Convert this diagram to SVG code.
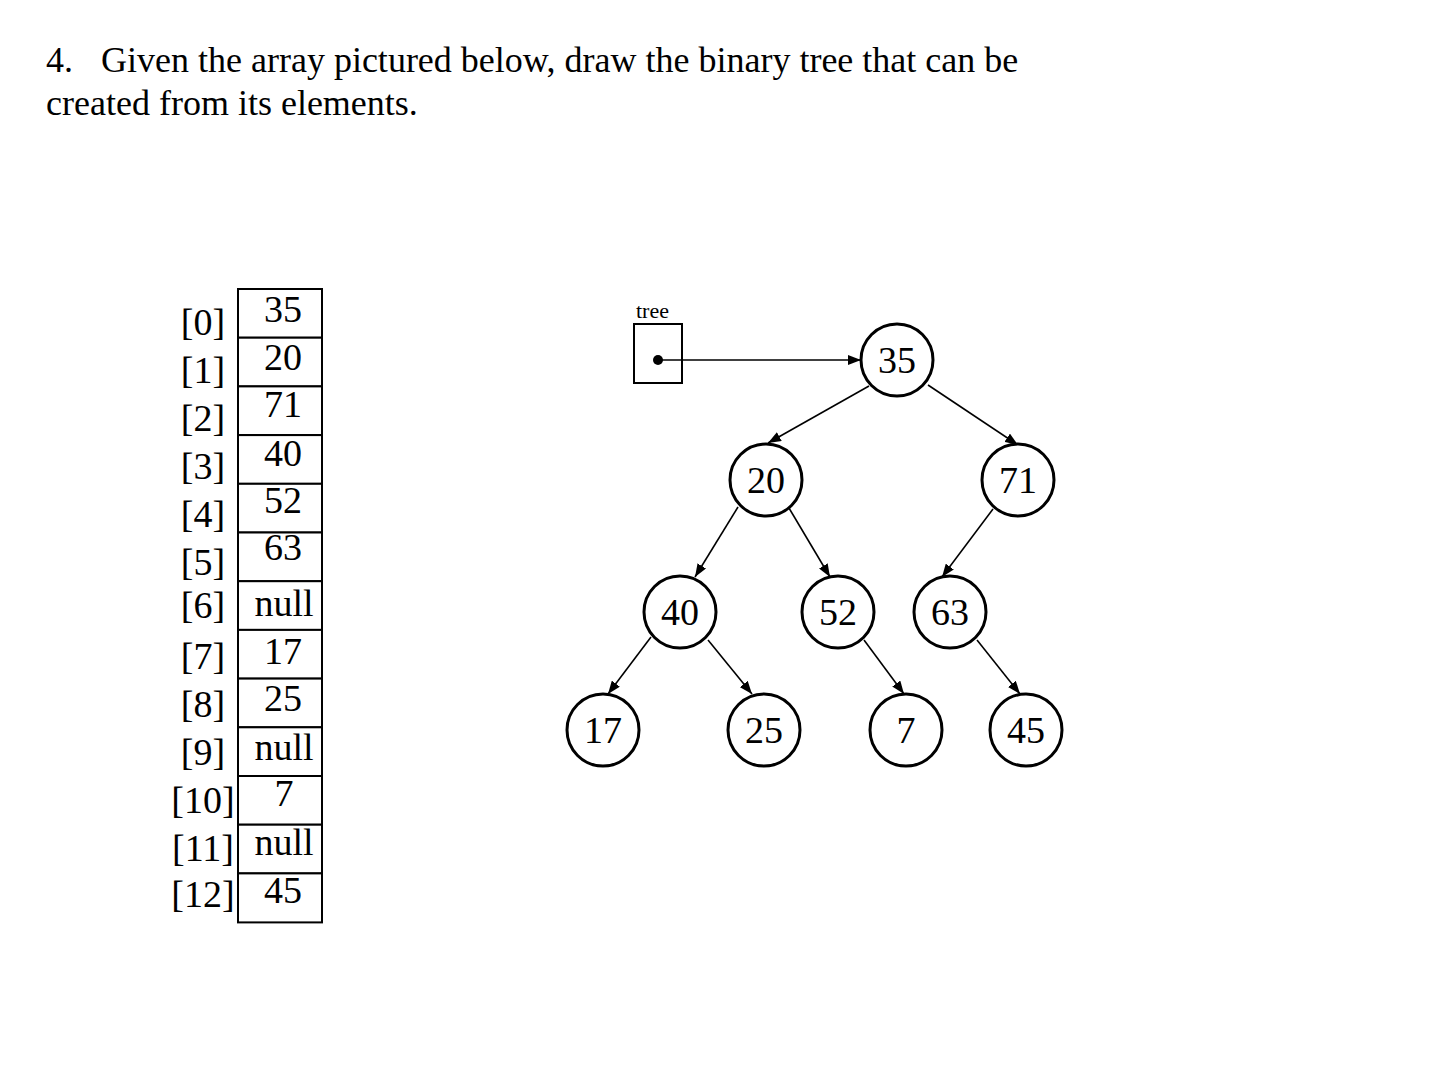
<svg xmlns="http://www.w3.org/2000/svg" width="1437" height="1080" viewBox="0 0 1437 1080" font-family="'Liberation Serif', 'Times New Roman', serif">
<style>
text{font-family:"Liberation Serif","Times New Roman",serif;fill:#000}
.title{font-size:36px}
.idx{font-size:38px;text-anchor:middle}
.val{font-size:38px;text-anchor:middle}
.cell{fill:#fff;stroke:#000;stroke-width:2}
.node circle{fill:#fff;stroke:#000;stroke-width:3}
.node text{font-size:38px;text-anchor:middle}
.edge{stroke:#000;stroke-width:1.6;fill:none;marker-end:url(#ah)}
</style>
<defs>
<marker id="ah" viewBox="0 0 13 10" refX="13" refY="5" markerWidth="13" markerHeight="10" markerUnits="userSpaceOnUse" orient="auto">
<path d="M0,0 L13,5 L0,10 z" fill="#000"/>
</marker>
</defs>
<rect width="1437" height="1080" fill="#fff"/>
<text class="title" x="46" y="72">4.<tspan x="101">Given the array pictured below, draw the binary tree that can be</tspan></text>
<text class="title" x="46" y="115">created from its elements.</text>

<g id="array">
<rect class="cell" x="238" y="289" width="84" height="48.7"/>
<rect class="cell" x="238" y="337.7" width="84" height="48.7"/>
<rect class="cell" x="238" y="386.4" width="84" height="48.7"/>
<rect class="cell" x="238" y="435.1" width="84" height="48.7"/>
<rect class="cell" x="238" y="483.8" width="84" height="48.7"/>
<rect class="cell" x="238" y="532.5" width="84" height="48.7"/>
<rect class="cell" x="238" y="581.2" width="84" height="48.7"/>
<rect class="cell" x="238" y="629.9" width="84" height="48.7"/>
<rect class="cell" x="238" y="678.6" width="84" height="48.7"/>
<rect class="cell" x="238" y="727.3" width="84" height="48.7"/>
<rect class="cell" x="238" y="776" width="84" height="48.7"/>
<rect class="cell" x="238" y="824.7" width="84" height="48.7"/>
<rect class="cell" x="238" y="873.4" width="84" height="49"/>
<text class="val" x="283" y="322">35</text>
<text class="val" x="283" y="370">20</text>
<text class="val" x="283" y="417">71</text>
<text class="val" x="283" y="466">40</text>
<text class="val" x="283" y="513">52</text>
<text class="val" x="283" y="560">63</text>
<text class="val" x="284" y="616">null</text>
<text class="val" x="283" y="664">17</text>
<text class="val" x="283" y="711">25</text>
<text class="val" x="284" y="760">null</text>
<text class="val" x="284" y="806">7</text>
<text class="val" x="284" y="855">null</text>
<text class="val" x="283" y="903">45</text>
<text class="idx" x="203" y="335">[0]</text>
<text class="idx" x="203" y="383">[1]</text>
<text class="idx" x="203" y="431">[2]</text>
<text class="idx" x="203" y="479">[3]</text>
<text class="idx" x="203" y="527">[4]</text>
<text class="idx" x="203" y="575">[5]</text>
<text class="idx" x="203" y="618">[6]</text>
<text class="idx" x="203" y="669">[7]</text>
<text class="idx" x="203" y="717">[8]</text>
<text class="idx" x="203" y="765">[9]</text>
<text class="idx" x="203" y="813">[10]</text>
<text class="idx" x="203" y="861">[11]</text>
<text class="idx" x="203" y="907">[12]</text>
</g>

<g id="tree-ref">
<text x="636" y="318" style="font-size:22px">tree</text>
<rect x="634" y="324" width="48" height="59" fill="#fff" stroke="#000" stroke-width="2"/>
<circle cx="658" cy="360" r="5" fill="#000"/>
</g>

<g id="connectors">
<line class="edge" x1="658" y1="360" x2="861" y2="360"/>
<line class="edge" x1="869" y1="386" x2="768" y2="443"/>
<line class="edge" x1="928" y1="385" x2="1018" y2="445"/>
<line class="edge" x1="738" y1="507" x2="695" y2="577"/>
<line class="edge" x1="789" y1="508" x2="830" y2="577"/>
<line class="edge" x1="993" y1="509" x2="942" y2="577"/>
<line class="edge" x1="651" y1="637" x2="608" y2="694"/>
<line class="edge" x1="708" y1="640" x2="752" y2="694"/>
<line class="edge" x1="864" y1="640" x2="904" y2="694"/>
<line class="edge" x1="977" y1="640" x2="1020" y2="694"/>
</g>

<g id="n35" class="node"><circle cx="897" cy="360" r="36"/><text x="897" y="373">35</text></g>
<g id="n20" class="node"><circle cx="766" cy="480" r="36"/><text x="766" y="493">20</text></g>
<g id="n71" class="node"><circle cx="1018" cy="480" r="36"/><text x="1018" y="493">71</text></g>
<g id="n40" class="node"><circle cx="680" cy="612" r="36"/><text x="680" y="625">40</text></g>
<g id="n52" class="node"><circle cx="838" cy="612" r="36"/><text x="838" y="625">52</text></g>
<g id="n63" class="node"><circle cx="950" cy="612" r="36"/><text x="950" y="625">63</text></g>
<g id="n17" class="node"><circle cx="603" cy="730" r="36"/><text x="603" y="743">17</text></g>
<g id="n25" class="node"><circle cx="764" cy="730" r="36"/><text x="764" y="743">25</text></g>
<g id="n7" class="node"><circle cx="906" cy="730" r="36"/><text x="906" y="743">7</text></g>
<g id="n45" class="node"><circle cx="1026" cy="730" r="36"/><text x="1026" y="743">45</text></g>
</svg>
